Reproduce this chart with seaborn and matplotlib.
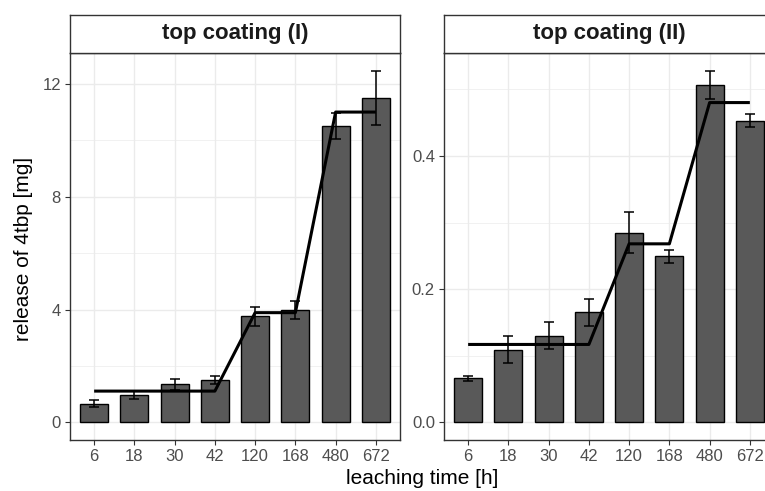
import numpy as np
import pandas as pd
import matplotlib
matplotlib.use("Agg")
import matplotlib.pyplot as plt
import seaborn as sns
from matplotlib.ticker import MultipleLocator

sns.set_theme(style="whitegrid")
plt.rcParams['font.family'] = ['Liberation Sans', 'DejaVu Sans']

# ---- data ----
times = ["6", "18", "30", "42", "120", "168", "480", "672"]
panels = ["top coating (I)", "top coating (II)"]

release_I = [0.66, 0.97, 1.35, 1.50, 3.76, 3.98, 10.51, 11.51]
err_I = [0.12, 0.13, 0.20, 0.13, 0.33, 0.33, 0.46, 0.96]
line_I = [1.11, 1.11, 1.11, 1.11, 3.89, 3.89, 11.0, 11.0]

release_II = [0.066, 0.109, 0.130, 0.165, 0.285, 0.249, 0.507, 0.453]
err_II = [0.004, 0.020, 0.020, 0.020, 0.031, 0.010, 0.021, 0.010]
line_II = [0.117, 0.117, 0.117, 0.117, 0.268, 0.268, 0.480, 0.480]

yticks_I = [0, 4, 8, 12]
yticks_II = [0.0, 0.2, 0.4]

W, H = 765, 491
fig = plt.figure(figsize=(W / 100, H / 100), dpi=100)
fig.patch.set_facecolor("white")

def fx(px):
    return px / W

def fy(py):
    return 1 - py / H

panel_specs = [
    (70, release_I, err_I, line_I, yticks_I, 2, "{:.0f}"),
    (444, release_II, err_II, line_II, yticks_II, 0.1, "{:.1f}"),
]

grey20 = "#333333"
grey30 = "#4d4d4d"

for (left_px, vals, errs, line, yt, minor, fmt), title in zip(panel_specs, panels):
    ax = fig.add_axes([fx(left_px), fy(440), 330 / W, 387 / H])
    df = pd.DataFrame({"time": times, "release": vals})
    sns.barplot(data=df, x="time", y="release", order=times, ax=ax,
                color="#595959", edgecolor="black", linewidth=1.0,
                width=0.7, saturation=1, errorbar=None)
    pos = np.arange(len(times))
    ax.errorbar(pos, vals, yerr=errs, fmt="none", ecolor="black",
                elinewidth=1.1, capsize=3.3, capthick=1.1, zorder=4)
    ax.plot(pos, line, color="black", lw=2.2, zorder=5, solid_capstyle="butt")

    top = max(v + e for v, e in zip(vals, errs))
    ax.set_ylim(-0.05 * top, top * 1.05)
    ax.set_xlim(-0.6, len(times) - 0.4)
    ax.set_yticks(yt)
    ax.set_yticklabels([fmt.format(t) for t in yt])
    ax.yaxis.set_minor_locator(MultipleLocator(minor))
    ax.grid(True, which="major", color="#ebebeb", lw=1.0)
    ax.grid(True, which="minor", axis="y", color="#ebebeb", lw=0.5)
    ax.set_axisbelow(True)
    ax.set_xlabel("")
    ax.set_ylabel("")
    for s in ax.spines.values():
        s.set_visible(True)
        s.set_color(grey20)
        s.set_linewidth(1.0)
    ax.tick_params(axis="both", which="major", length=3.5, width=0.8,
                   color=grey20, labelcolor=grey30, labelsize=12, pad=3,
                   bottom=True, left=True)
    ax.tick_params(axis="both", which="minor", length=0)

    sax = fig.add_axes([fx(left_px), fy(53), 330 / W, 38 / H])
    sax.set_facecolor("white")
    sax.set_xticks([])
    sax.set_yticks([])
    sax.grid(False)
    for s in sax.spines.values():
        s.set_visible(True)
        s.set_color(grey20)
        s.set_linewidth(1.0)
    sax.text(0.5, 0.5, title, ha="center", va="center", fontsize=16,
             fontweight="bold", color="#1a1a1a", transform=sax.transAxes)

fig.text(fx(24), fy(249), "release of 4tbp [mg]", rotation=90,
         ha="center", va="center", fontsize=15, color="black")
fig.text(fx(422), fy(469), "leaching time [h]", ha="center", va="top",
         fontsize=15, color="black")

fig.savefig("out.png", dpi=100, facecolor="white")
